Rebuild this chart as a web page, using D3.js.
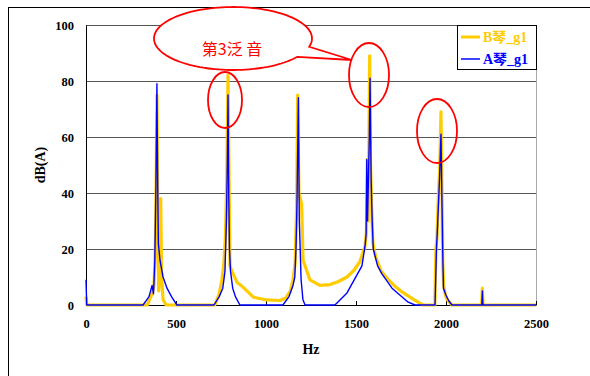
<!DOCTYPE html>
<html>
<head>
<meta charset="utf-8">
<script src="https://cdn.jsdelivr.net/npm/d3@7"></script>
<style>
  body { margin: 0; background: #fff; }
  svg { display: block; }
  .tick text { font-family: "Liberation Serif", "Times New Roman", serif; font-weight: bold; font-size: 12.5px; fill: #000; }
</style>
</head>
<body>
<div id="root"></div>
<script>
// series (Hz, dB(A))
const hzB = [0, 5, 340, 367, 378, 385, 390, 394, 399, 404, 409, 415, 420, 428, 445,
  716, 740, 755, 765, 775, 782, 789, 795, 800, 811, 840, 872, 930, 1005, 1078, 1110, 1135, 1150, 1162, 1170, 1176, 1183, 1198, 1206, 1244, 1300, 1356, 1400, 1450, 1490, 1522, 1550, 1558, 1563, 1567, 1572, 1576, 1581, 1587, 1594, 1610, 1640, 1680, 1720, 1760, 1800, 1840, 1872,
  1938, 1944, 1950, 1956, 1962, 1966, 1972, 1978, 1982, 1987, 1995, 2005, 2033, 2198, 2202, 2206, 2500];
const dbB = [3, 0, 0, 4, 7, 20, 45, 75, 30, 5, 15, 38, 10, 2, 0,
  0, 4, 9, 14, 25, 45, 82, 45, 14, 12, 8, 6.4, 2.8, 1.8, 1.6, 2.5, 5, 9, 15, 35, 75, 40, 36, 16, 9, 7, 7.3, 8.3, 10, 12.5, 15.6, 21, 26, 52, 30, 60, 89, 50, 35, 22, 17, 12, 9, 6.5, 4.5, 2.8, 1.2, 0,
  0, 20, 24, 36, 45, 50, 69, 40, 15, 7, 4, 2, 0, 0, 6, 0, 0];

const hzA = [0, 4, 317, 350, 367, 375, 382, 388, 394, 398, 402, 411, 428, 450, 475, 505,
  711, 740, 760, 772, 780, 785, 789, 793, 797, 803, 815, 830, 855,
  1094, 1128, 1150, 1160, 1167, 1172, 1180, 1185, 1190, 1195, 1205, 1217,
  1383, 1450, 1533, 1550, 1556, 1560, 1564, 1569, 1574, 1578, 1584, 1590, 1596, 1620, 1645, 1700, 1745, 1790, 1828,
  1939, 1947, 1953, 1958, 1964, 1972, 1978, 1983, 1986, 2000, 2015, 2033, 2199, 2202, 2205, 2500];
const dbA = [9, 0, 0, 3, 7, 4, 15, 40, 79, 45, 22, 16, 10, 6, 3, 0,
  0, 3, 6, 12, 30, 50, 75, 40, 20, 12, 6, 3, 0,
  0, 3, 7, 10, 21, 36, 74, 30, 20, 9, 2, 0,
  0, 4.3, 14, 21, 25, 52, 30, 45, 60, 81, 45, 30, 20, 14, 11, 6, 3.5, 1, 0,
  0, 20, 28, 36, 45, 61, 35, 15, 6, 3.5, 1.5, 0, 0, 5, 0, 0];

const seriesNames = ["B琴_g1", "A琴_g1"];
const seriesColors = ["#ffcc00", "#0000ff"];
const xTicks = [0, 500, 1000, 1500, 2000, 2500];
const yTicks = [0, 20, 40, 60, 80, 100];
const calloutText = "第3泛 音";

const W = 590, H = 376;
const margin = { top: 25, right: 54, bottom: 71, left: 86 };
const width = W - margin.left - margin.right;
const height = H - margin.top - margin.bottom;

const svg = d3.select("#root").append("svg").attr("width", W).attr("height", H);

// outer frame (runs off the right/bottom of the picture)
svg.append("rect").attr("x", 8.5).attr("y", 7.5).attr("width", 700).attr("height", 500)
  .attr("fill", "none").attr("stroke", "#000");

const g = svg.append("g").attr("transform", `translate(${margin.left},${margin.top})`);

const x = d3.scaleLinear().domain([0, 2500]).range([0, width]);
const y = d3.scaleLinear().domain([0, 100]).range([height, 0]);

// grid
g.append("g")
  .call(d3.axisLeft(y).tickValues(yTicks).tickSize(-width).tickFormat(""))
  .call(s => s.select(".domain").remove())
  .call(s => s.selectAll(".tick line").attr("stroke", "#555"));

g.append("line").attr("x1", width + 0.5).attr("x2", width + 0.5).attr("y1", 0).attr("y2", height)
  .attr("stroke", "#aaa");

g.append("g")
  .call(d3.axisLeft(y).tickValues(yTicks).tickSizeInner(0).tickSizeOuter(0).tickPadding(12))
  .call(s => s.select(".domain").attr("stroke", "#000"));

g.append("g").attr("transform", `translate(0,${height})`)
  .call(d3.axisBottom(x).tickValues(xTicks).tickFormat(d3.format("d"))
    .tickSizeInner(-4).tickSizeOuter(0).tickPadding(14))
  .call(s => s.select(".domain").attr("stroke", "#000"));

const line = d3.line().x(d => x(d[0])).y(d => y(d[1]));
const dataB = hzB.map((h, i) => [h, dbB[i]]);
const dataA = hzA.map((h, i) => [h, dbA[i]]);

g.append("path").datum(dataB).attr("d", line).attr("fill", "none")
  .attr("stroke", seriesColors[0]).attr("stroke-width", 3.2).attr("stroke-linejoin", "round");
g.append("path").datum(dataA).attr("d", line).attr("fill", "none")
  .attr("stroke", seriesColors[1]).attr("stroke-width", 1.4).attr("stroke-linejoin", "round");

// axis titles
svg.append("text").attr("transform", "translate(45,165) rotate(-90)")
  .attr("text-anchor", "middle")
  .style("font-family", "Liberation Serif, serif").style("font-weight", "bold").style("font-size", "14px")
  .text("dB(A)");
svg.append("text").attr("x", 311).attr("y", 354).attr("text-anchor", "middle")
  .style("font-family", "Liberation Serif, serif").style("font-weight", "bold").style("font-size", "14px")
  .text("Hz");

// legend
const lg = svg.append("g").attr("transform", "translate(457,25)");
lg.append("rect").attr("x", 0.5).attr("y", 0.5).attr("width", 79).attr("height", 44)
  .attr("fill", "#fff").attr("stroke", "#000");
seriesNames.forEach((name, i) => {
  const yy = 12 + i * 22;
  lg.append("line").attr("x1", 4).attr("x2", 23).attr("y1", yy).attr("y2", yy)
    .attr("stroke", seriesColors[i]).attr("stroke-width", i === 0 ? 3 : 1.5);
  lg.append("text").attr("x", 26).attr("y", yy + 5)
    .attr("fill", seriesColors[i])
    .style("font-family", "Liberation Serif, 'Noto Sans CJK SC', serif").style("font-weight", "bold").style("font-size", "14px")
    .text(name);
});

// callout: ellipse with a tail pointing at the 1600 Hz peak
const cx = 233, cy = 38.5, rx = 79, ry = 31.5;
const angA = Math.atan2((47 - cy) / ry, (311 - cx) / rx);
const angB = Math.atan2((57 - cy) / ry, (298 - cx) / rx);
const longSpan = 2 * Math.PI - (angB - angA);
const path = d3.path();
for (let k = 0; k <= 120; k++) {
  const t = angA - k / 120 * longSpan;
  const px = cx + rx * Math.cos(t), py = cy + ry * Math.sin(t);
  if (k === 0) path.moveTo(px, py); else path.lineTo(px, py);
}
path.lineTo(352, 60);
path.closePath();
svg.append("path").attr("d", path.toString()).attr("fill", "#fff")
  .attr("stroke", "#ff0000").attr("stroke-width", 1.8);
svg.append("text").attr("x", 232).attr("y", 55).attr("text-anchor", "middle")
  .attr("fill", "#ff0000")
  .style("font-family", "'Noto Sans CJK SC', sans-serif").style("font-size", "16px")
  .text(calloutText);

// circled peaks
const rings = [[225, 100, 17, 28], [369, 75, 20, 32], [437, 131, 20, 32]];
rings.forEach(r => {
  svg.append("ellipse").attr("cx", r[0]).attr("cy", r[1]).attr("rx", r[2]).attr("ry", r[3])
    .attr("fill", "none").attr("stroke", "#ff0000").attr("stroke-width", 1.8);
});
</script>
</body>
</html>
